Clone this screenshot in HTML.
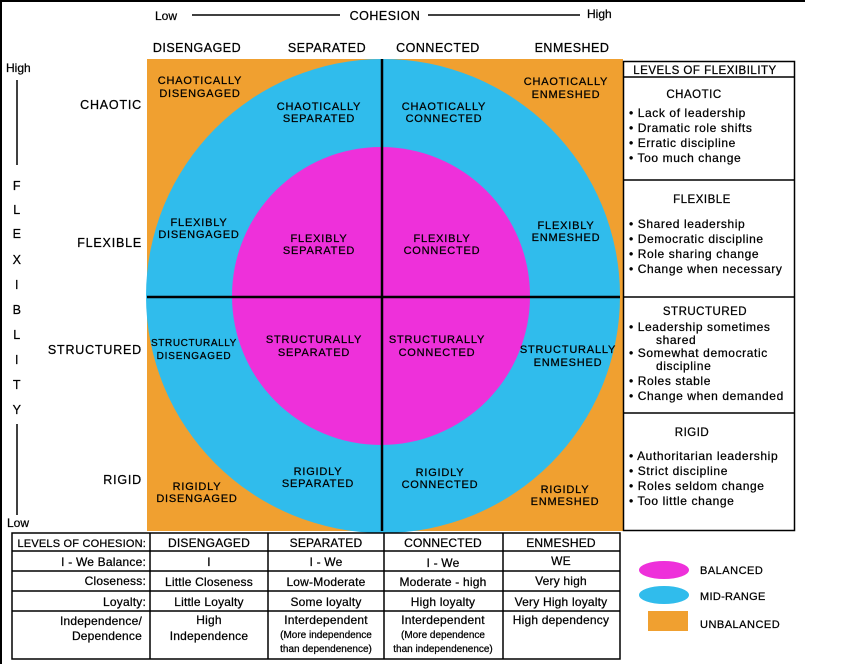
<!DOCTYPE html>
<html><head><meta charset="utf-8"><style>
html,body{margin:0;padding:0;background:#fff;}
svg text{font-family:"Liberation Sans",Arial,sans-serif;fill:#000;stroke:#000;stroke-width:0.25px;}
.c{font-size:11px;letter-spacing:0.8px;text-anchor:middle;}
.h{font-size:12.5px;letter-spacing:0.5px;text-anchor:middle;}
.r{font-size:12.5px;letter-spacing:0.8px;text-anchor:end;}
.l{font-size:12px;letter-spacing:0.6px;}
.t{font-size:12px;letter-spacing:0.2px;text-anchor:middle;}
.s{font-size:10px;letter-spacing:0px;text-anchor:middle;}
</style></head><body>
<svg width="850" height="664" viewBox="0 0 850 664" xmlns="http://www.w3.org/2000/svg">
<line x1="0" y1="1" x2="805" y2="1" stroke="#000" stroke-width="2"/>
<line x1="1" y1="0" x2="1" y2="664" stroke="#000" stroke-width="2"/>
<text x="155" y="20" style="font-size:12px">Low</text>
<line x1="192" y1="15" x2="340" y2="15" stroke="#000" stroke-width="1.5"/>
<text x="385" y="20" class="h">COHESION</text>
<line x1="428" y1="15" x2="580" y2="15" stroke="#000" stroke-width="1.5"/>
<text x="587" y="18" style="font-size:12px">High</text>
<text x="197" y="52" class="h">DISENGAGED</text>
<text x="327" y="52" class="h">SEPARATED</text>
<text x="438" y="52" class="h">CONNECTED</text>
<text x="572" y="52" class="h">ENMESHED</text>
<text x="6" y="72" style="font-size:12px">High</text>
<line x1="17" y1="80" x2="17" y2="165" stroke="#000" stroke-width="1.5"/>
<g>
<text x="17" y="190" class="h">F</text><text x="17" y="214" class="h">L</text><text x="17" y="238" class="h">E</text><text x="17" y="264" class="h">X</text><text x="17" y="289" class="h">I</text><text x="17" y="314" class="h">B</text><text x="17" y="339" class="h">L</text><text x="17" y="364" class="h">I</text><text x="17" y="389" class="h">T</text><text x="17" y="414" class="h">Y</text>
</g>
<line x1="17" y1="424" x2="17" y2="515" stroke="#000" stroke-width="1.5"/>
<text x="7" y="527" style="font-size:12px">Low</text>
<text x="142" y="109" class="r">CHAOTIC</text>
<text x="142" y="247" class="r">FLEXIBLE</text>
<text x="142" y="354" class="r">STRUCTURED</text>
<text x="142" y="484" class="r">RIGID</text>
<rect x="147" y="59" width="476" height="472" fill="#f0a030"/>
<circle cx="383" cy="296" r="237" fill="#30bcec"/>
<circle cx="381" cy="296" r="149" fill="#ee30da"/>
<line x1="382" y1="59" x2="382" y2="531" stroke="#000" stroke-width="2.5"/>
<line x1="147" y1="297" x2="620" y2="297" stroke="#000" stroke-width="2.5"/>
<text x="200" y="84" class="c">CHAOTICALLY</text><text x="200" y="97" class="c">DISENGAGED</text>
<text x="319" y="110" class="c">CHAOTICALLY</text><text x="319" y="122" class="c">SEPARATED</text>
<text x="444" y="110" class="c">CHAOTICALLY</text><text x="444" y="122" class="c">CONNECTED</text>
<text x="566" y="85" class="c">CHAOTICALLY</text><text x="566" y="98" class="c">ENMESHED</text>
<text x="199" y="226" class="c">FLEXIBLY</text><text x="199" y="238" class="c">DISENGAGED</text>
<text x="319" y="242" class="c">FLEXIBLY</text><text x="319" y="254" class="c">SEPARATED</text>
<text x="442" y="242" class="c">FLEXIBLY</text><text x="442" y="254" class="c">CONNECTED</text>
<text x="566" y="229" class="c">FLEXIBLY</text><text x="566" y="241" class="c">ENMESHED</text>
<text x="194" y="346" class="c" style="font-size:10px;letter-spacing:0.6px">STRUCTURALLY</text><text x="194" y="359" class="c" style="font-size:10px">DISENGAGED</text>
<text x="314" y="343" class="c">STRUCTURALLY</text><text x="314" y="356" class="c">SEPARATED</text>
<text x="437" y="343" class="c">STRUCTURALLY</text><text x="437" y="356" class="c">CONNECTED</text>
<text x="568" y="353" class="c">STRUCTURALLY</text><text x="568" y="366" class="c">ENMESHED</text>
<text x="197" y="490" class="c">RIGIDLY</text><text x="197" y="502" class="c">DISENGAGED</text>
<text x="318" y="475" class="c">RIGIDLY</text><text x="318" y="487" class="c">SEPARATED</text>
<text x="440" y="476" class="c">RIGIDLY</text><text x="440" y="488" class="c">CONNECTED</text>
<text x="565" y="493" class="c">RIGIDLY</text><text x="565" y="505" class="c">ENMESHED</text>
<rect x="623.5" y="61.5" width="171" height="469" fill="#fff" stroke="#000" stroke-width="1.5"/>
<line x1="623" y1="77" x2="795" y2="77" stroke="#000" stroke-width="1.5"/>
<line x1="623" y1="180" x2="795" y2="180" stroke="#000" stroke-width="1.5"/>
<line x1="623" y1="297" x2="795" y2="297" stroke="#000" stroke-width="1.5"/>
<line x1="623" y1="413" x2="795" y2="413" stroke="#000" stroke-width="1.5"/>
<text x="705" y="74" class="h" style="font-size:11.5px">LEVELS OF FLEXIBILITY</text>
<text x="694" y="98" class="h" style="font-size:11.5px">CHAOTIC</text>
<text x="629" y="117" class="l">• Lack of leadership</text>
<text x="629" y="132" class="l">• Dramatic role shifts</text>
<text x="629" y="147" class="l">• Erratic discipline</text>
<text x="629" y="162" class="l">• Too much change</text>
<text x="702" y="203" class="h" style="font-size:11.5px">FLEXIBLE</text>
<text x="629" y="228" class="l">• Shared leadership</text>
<text x="629" y="243" class="l">• Democratic discipline</text>
<text x="629" y="258" class="l">• Role sharing change</text>
<text x="629" y="273" class="l">• Change when necessary</text>
<text x="705" y="315" class="h" style="font-size:11.5px">STRUCTURED</text>
<text x="629" y="331" class="l">• Leadership sometimes</text>
<text x="656" y="344" class="l">shared</text>
<text x="629" y="357" class="l">• Somewhat democratic</text>
<text x="656" y="370" class="l">discipline</text>
<text x="629" y="385" class="l">• Roles stable</text>
<text x="629" y="400" class="l">• Change when demanded</text>
<text x="692" y="436" class="h" style="font-size:11.5px">RIGID</text>
<text x="629" y="460" class="l">• Authoritarian leadership</text>
<text x="629" y="475" class="l">• Strict discipline</text>
<text x="629" y="490" class="l">• Roles seldom change</text>
<text x="629" y="505" class="l">• Too little change</text>
<g stroke="#000" stroke-width="1.5" fill="none">
<rect x="12" y="533" width="608" height="126" fill="#fff"/>
<line x1="12" y1="551" x2="620" y2="551"/>
<line x1="12" y1="571" x2="620" y2="571"/>
<line x1="12" y1="591" x2="620" y2="591"/>
<line x1="12" y1="611" x2="620" y2="611"/>
<line x1="150" y1="533" x2="150" y2="659"/>
<line x1="268" y1="533" x2="268" y2="659"/>
<line x1="384" y1="533" x2="384" y2="659"/>
<line x1="503" y1="533" x2="503" y2="659"/>
</g>
<text x="146" y="547" class="t" style="text-anchor:end;font-size:11px">LEVELS OF COHESION:</text>
<text x="209" y="547" class="t">DISENGAGED</text>
<text x="326" y="547" class="t">SEPARATED</text>
<text x="443" y="547" class="t">CONNECTED</text>
<text x="561" y="547" class="t">ENMESHED</text>
<text x="146" y="566" class="t" style="text-anchor:end">I - We Balance:</text>
<text x="209" y="566" class="t">I</text><text x="326" y="566" class="t">I - We</text><text x="443" y="567" class="t">I - We</text><text x="561" y="565" class="t">WE</text>
<text x="146" y="585" class="t" style="text-anchor:end">Closeness:</text>
<text x="209" y="586" class="t">Little Closeness</text><text x="326" y="586" class="t">Low-Moderate</text><text x="443" y="586" class="t">Moderate - high</text><text x="561" y="585" class="t">Very high</text>
<text x="146" y="606" class="t" style="text-anchor:end">Loyalty:</text>
<text x="209" y="606" class="t">Little Loyalty</text><text x="326" y="606" class="t">Some loyalty</text><text x="443" y="606" class="t">High loyalty</text><text x="561" y="606" class="t">Very High loyalty</text>
<text x="142" y="625" class="t" style="text-anchor:end">Independence/</text>
<text x="142" y="640" class="t" style="text-anchor:end">Dependence</text>
<text x="209" y="624" class="t">High</text><text x="209" y="640" class="t">Independence</text>
<text x="326" y="624" class="t">Interdependent</text>
<text x="326" y="638" class="s">(More independence</text>
<text x="326" y="652" class="s">than dependenence)</text>
<text x="443" y="624" class="t">Interdependent</text>
<text x="443" y="638" class="s">(More dependence</text>
<text x="443" y="652" class="s">than independenence)</text>
<text x="561" y="624" class="t">High dependency</text>
<ellipse cx="664" cy="570" rx="25" ry="9" fill="#ee30da"/>
<ellipse cx="664" cy="595" rx="25" ry="9" fill="#30bcec"/>
<rect x="648" y="611" width="40" height="20" fill="#f0a030"/>
<text x="700" y="574" style="font-size:11px;letter-spacing:0.5px">BALANCED</text>
<text x="700" y="600" style="font-size:11px;letter-spacing:0.3px">MID-RANGE</text>
<text x="700" y="628" style="font-size:11px;letter-spacing:0.5px">UNBALANCED</text>
</svg>
</body></html>
